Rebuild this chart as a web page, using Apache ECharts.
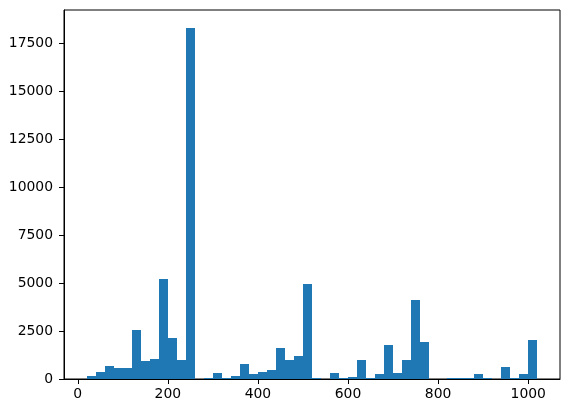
<!DOCTYPE html>
<html>
<head>
<meta charset="utf-8">
<script src="https://cdn.jsdelivr.net/npm/echarts@6/dist/echarts.min.js"></script>
<style>
html,body{margin:0;padding:0;background:#fff;}
#main{width:569px;height:413px;}
</style>
</head>
<body>
<div id="main"></div>
<script>
// Histogram: 50 bins between binStart and binEnd
const binStart = 19.5;
const binEnd = 1020.5;
const counts = [
  140, 350, 660, 560, 560, 2540, 920, 1025, 5190, 2120,
  975, 18320, 0, 50, 300, 50, 140, 765, 245, 350,
  450, 1600, 975, 1180, 4930, 50, 0, 300, 50, 90,
  975, 50, 245, 1755, 300, 975, 4100, 1910, 0, 0,
  50, 50, 50, 245, 50, 0, 610, 50, 245, 2015
];
const xTicks = [0, 200, 400, 600, 800, 1000];
const yTicks = [0, 2500, 5000, 7500, 10000, 12500, 15000, 17500];

const nBins = counts.length;
const binW = (binEnd - binStart) / nBins;
const data = counts.map((c, i) => [binStart + i * binW, binStart + (i + 1) * binW, c]);
const span = binEnd - binStart;
const xMin = binStart - 0.05 * span;
const xMax = binEnd + 0.05 * span;
const yMax = Math.max(...counts) * 1.05;

const chart = echarts.init(document.getElementById('main'), null, {renderer: 'canvas'});
const font = {fontFamily: 'DejaVu Sans', fontSize: 13.9, color: '#000', formatter: v => String(Math.round(v))};
chart.setOption({
  animation: false,
  backgroundColor: '#fff',
  grid: {left: 64, right: 9, top: 10, bottom: 34, show: true, borderColor: '#000', borderWidth: 1, backgroundColor: 'transparent'},
  xAxis: {
    type: 'value', min: xMin, max: xMax,
    axisLine: {show: true, onZero: false, lineStyle: {color: '#000', width: 1}},
    axisTick: {show: true, length: 5, lineStyle: {color: '#000', width: 1}, customValues: xTicks},
    axisLabel: Object.assign({margin: 8, customValues: xTicks}, font),
    splitLine: {show: false}
  },
  yAxis: {
    type: 'value', min: 0, max: yMax,
    axisLine: {show: true, onZero: false, lineStyle: {color: '#000', width: 1}},
    axisTick: {show: true, length: 5, lineStyle: {color: '#000', width: 1}, customValues: yTicks},
    axisLabel: Object.assign({margin: 11, customValues: yTicks}, font),
    splitLine: {show: false}
  },
  series: [{
    type: 'custom',
    data: data,
    encode: {x: [0, 1], y: 2},
    renderItem: function (params, api) {
      const p0 = api.coord([api.value(0), 0]);
      const p1 = api.coord([api.value(1), api.value(2)]);
      const x0 = Math.round(p0[0]), x1 = Math.round(p1[0]);
      const yb = Math.round(p0[1]), yt = Math.round(p1[1]);
      return {
        type: 'rect',
        shape: {x: x0, y: yt, width: x1 - x0, height: yb - yt},
        style: {fill: '#1f77b4'}
      };
    }
  }]
});
</script>
</body>
</html>
